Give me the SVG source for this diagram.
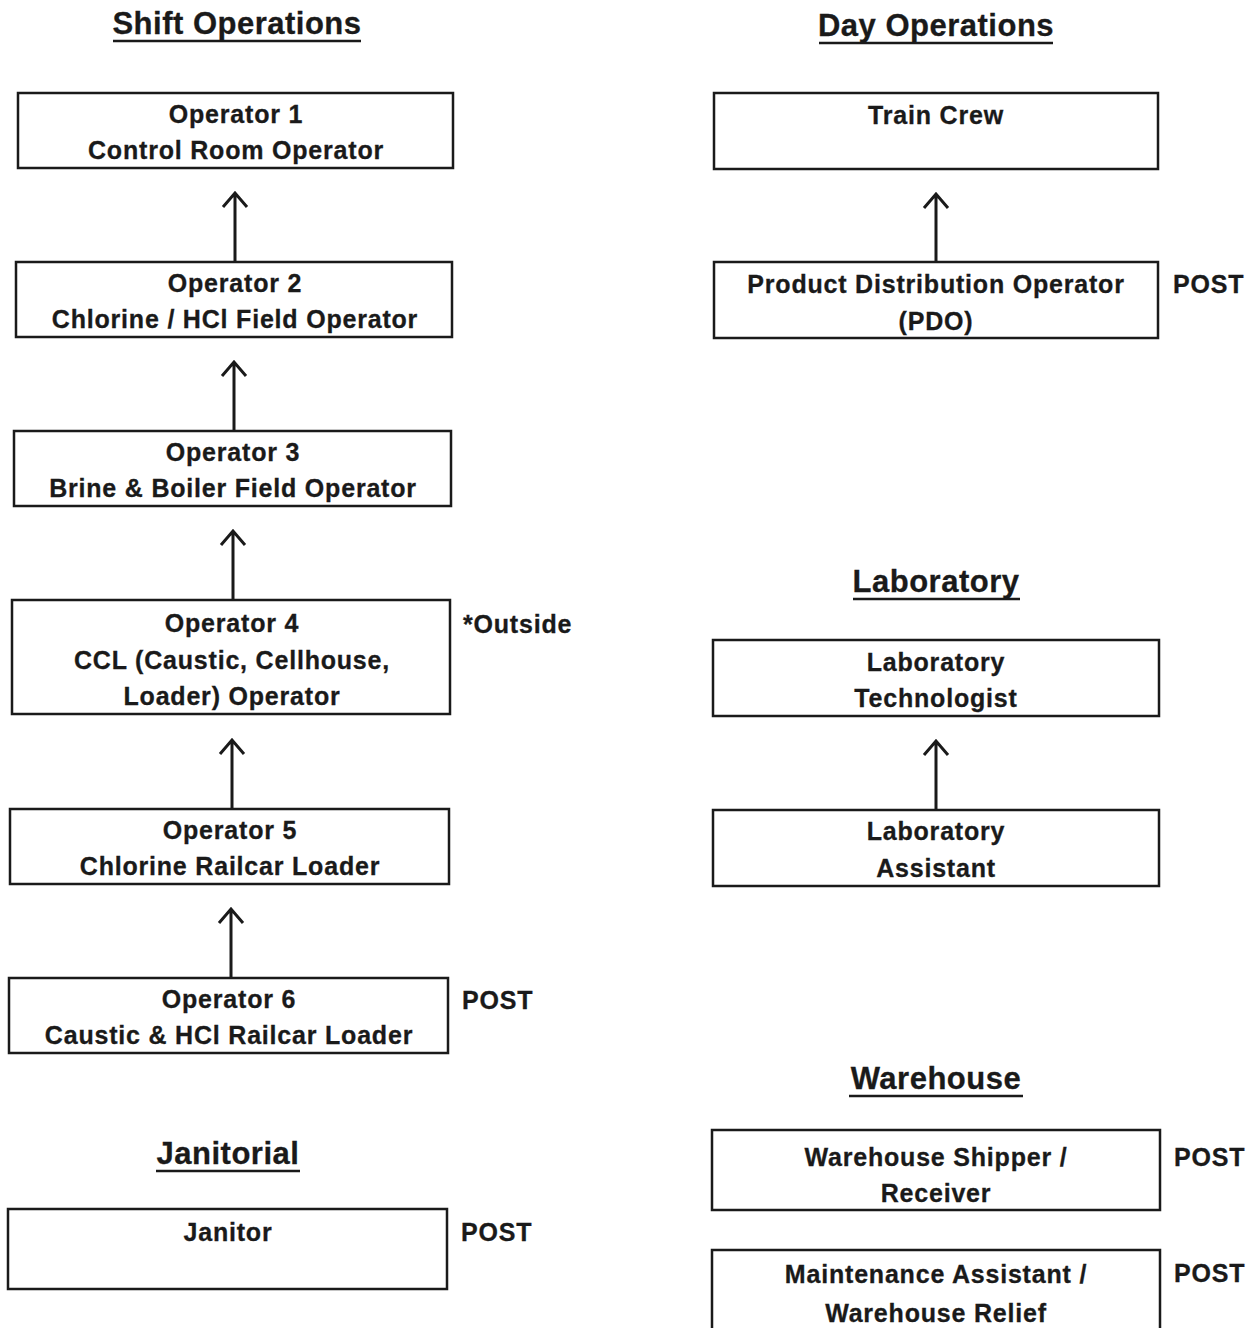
<svg xmlns="http://www.w3.org/2000/svg" width="1259" height="1328" viewBox="0 0 1259 1328">
<style>
.box{fill:#fff;stroke:#1a1a1a;stroke-width:2.5}
.t{font-family:"Liberation Sans",Arial,sans-serif;font-weight:bold;font-size:25px;letter-spacing:0.8px;fill:#1a1a1a;stroke:#1a1a1a;stroke-width:0.3;text-anchor:middle}
.s{font-family:"Liberation Sans",Arial,sans-serif;font-weight:bold;font-size:25px;letter-spacing:0.8px;fill:#1a1a1a;stroke:#1a1a1a;stroke-width:0.3}
.h{font-family:"Liberation Sans",Arial,sans-serif;font-weight:bold;font-size:31px;letter-spacing:0.5px;fill:#1a1a1a;stroke:#1a1a1a;stroke-width:0.3;text-anchor:middle}
.u{stroke:#1a1a1a;stroke-width:2.5}
.c{stroke:#1a1a1a;stroke-width:3;fill:none}
</style>
<rect width="1259" height="1328" fill="#fff"/>
<g id="headers">
<text class="h" x="237" y="34">Shift Operations</text><line class="u" x1="113" y1="41" x2="361" y2="41"/>
<text class="h" x="936" y="36">Day Operations</text><line class="u" x1="819" y1="43" x2="1053" y2="43"/>
<text class="h" x="936" y="592">Laboratory</text><line class="u" x1="853" y1="599" x2="1020" y2="599"/>
<text class="h" x="936" y="1089">Warehouse</text><line class="u" x1="849" y1="1096" x2="1023" y2="1096"/>
<text class="h" x="228" y="1164">Janitorial</text><line class="u" x1="156" y1="1171" x2="300" y2="1171"/>
</g>
<g id="op1"><rect class="box" x="18" y="93" width="435" height="75"/><text class="t" x="236" y="123">Operator 1</text><text class="t" x="236" y="159">Control Room Operator</text></g>
<g id="op2"><rect class="box" x="16" y="262" width="436" height="75"/><text class="t" x="235" y="292">Operator 2</text><text class="t" x="235" y="328">Chlorine / HCl Field Operator</text></g>
<g id="op3"><rect class="box" x="14" y="431" width="437" height="75"/><text class="t" x="233" y="461">Operator 3</text><text class="t" x="233" y="497">Brine &amp; Boiler Field Operator</text></g>
<g id="op4"><rect class="box" x="12" y="600" width="438" height="114"/><text class="t" x="232" y="632">Operator 4</text><text class="t" x="232" y="669">CCL (Caustic, Cellhouse,</text><text class="t" x="232" y="705">Loader) Operator</text></g>
<text class="s" x="463" y="633">*Outside</text>
<g id="op5"><rect class="box" x="10" y="809" width="439" height="75"/><text class="t" x="230" y="839">Operator 5</text><text class="t" x="230" y="875">Chlorine Railcar Loader</text></g>
<g id="op6"><rect class="box" x="9" y="978" width="439" height="75"/><text class="t" x="229" y="1008">Operator 6</text><text class="t" x="229" y="1044">Caustic &amp; HCl Railcar Loader</text></g>
<text class="s" x="462" y="1009">POST</text>
<g id="janitor"><rect class="box" x="8" y="1209" width="439" height="80"/><text class="t" x="228" y="1241">Janitor</text></g>
<text class="s" x="461" y="1241">POST</text>
<g id="traincrew"><rect class="box" x="714" y="93" width="444" height="76"/><text class="t" x="936" y="124">Train Crew</text></g>
<g id="pdo"><rect class="box" x="714" y="262" width="444" height="76"/><text class="t" x="936" y="293">Product Distribution Operator</text><text class="t" x="936" y="330">(PDO)</text></g>
<text class="s" x="1173" y="293">POST</text>
<g id="labtech"><rect class="box" x="713" y="640" width="446" height="76"/><text class="t" x="936" y="671">Laboratory</text><text class="t" x="936" y="707">Technologist</text></g>
<g id="labasst"><rect class="box" x="713" y="810" width="446" height="76"/><text class="t" x="936" y="840">Laboratory</text><text class="t" x="936" y="877">Assistant</text></g>
<g id="whship"><rect class="box" x="712" y="1130" width="448" height="80"/><text class="t" x="936" y="1166">Warehouse Shipper /</text><text class="t" x="936" y="1202">Receiver</text></g>
<text class="s" x="1174" y="1166">POST</text>
<g id="maint"><rect class="box" x="712" y="1250" width="448" height="90"/><text class="t" x="936" y="1283">Maintenance Assistant /</text><text class="t" x="936" y="1322">Warehouse Relief</text></g>
<text class="s" x="1174" y="1282">POST</text>
<g id="connectors">
<path class="c" d="M235 262V193M223 207L235 193L247 207"/>
<path class="c" d="M234 431V362M222 376L234 362L246 376"/>
<path class="c" d="M233 600V531M221 545L233 531L245 545"/>
<path class="c" d="M232 809V740M220 754L232 740L244 754"/>
<path class="c" d="M231 978V909M219 923L231 909L243 923"/>
<path class="c" d="M936 262V194M924 208L936 194L948 208"/>
<path class="c" d="M936 810V741M924 755L936 741L948 755"/>
</g>
</svg>
